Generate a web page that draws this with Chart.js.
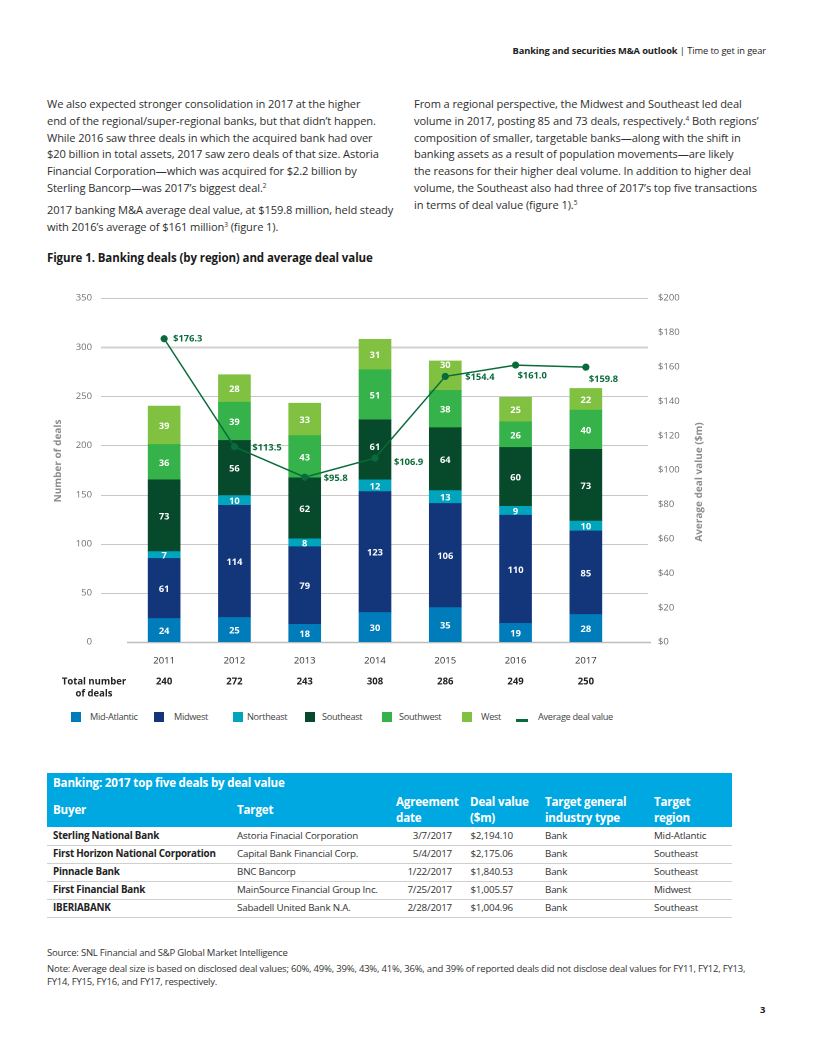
<!DOCTYPE html>
<html>
<head>
<meta charset="utf-8">
<title>Banking deals (by region) and average deal value</title>
<script src="https://cdn.jsdelivr.net/npm/chart.js@4.4.1/dist/chart.umd.min.js"></script>
<style>
  html, body { margin: 0; padding: 0; background: #fff; }
  body { width: 815px; height: 1055px; position: relative; overflow: hidden;
         font-family: "Open Sans", sans-serif; color: #2b2b2b; }
  .t { position: absolute; white-space: nowrap; }
  .running { top: 44px; right: 49px; font-size: 9.3px; letter-spacing: -0.1px; color: #222; }
  .para { font-size: 11.1px; line-height: 16.8px; letter-spacing: -0.1px; color: #2e2e2e; }
  .para sup { font-size: 6.5px; vertical-align: 4px; line-height: 0; }
  .figtitle { left: 47px; top: 250px; font-size: 11.5px; font-weight: 700; letter-spacing: -0.1px; color: #1a1a1a; }
  #chartBox { position: absolute; left: 40px; top: 285px; width: 720px; height: 415px; }
  .lg-box { position: absolute; width: 10px; height: 10px; top: 712px; }
  .lg-line { position: absolute; width: 12px; height: 3px; top: 719px; }
  .lg-text { position: absolute; top: 710px; font-size: 9.2px; letter-spacing: -0.3px; color: #444; }
  .th { position: absolute; background: #00a8e1; left: 47px; width: 685px; top: 773px; height: 54px; }
  .tc { position: absolute; white-space: nowrap; letter-spacing: -0.2px; }
  .head { color: #fff; font-weight: 700; font-size: 11.6px; line-height: 15.5px; }
  .cell { font-size: 9.8px; color: #333; }
  .sep { position: absolute; left: 47px; width: 685px; height: 1px; background: #cfcfcf; }
  .foot { font-size: 9.5px; letter-spacing: -0.2px; color: #333; left: 47px; }
</style>
</head>
<body>

<div class="t running"><b>Banking and securities M&amp;A outlook</b> | Time to get in gear</div>

<div class="t para" style="left:47px; top:96px;">
We also expected stronger consolidation in 2017 at the higher<br>
end of the regional/super-regional banks, but that didn’t happen.<br>
While 2016 saw three deals in which the acquired bank had over<br>
$20 billion in total assets, 2017 saw zero deals of that size. Astoria<br>
Financial Corporation—which was acquired for $2.2 billion by<br>
Sterling Bancorp—was 2017’s biggest deal.<sup>2</sup>
</div>
<div class="t para" style="left:47px; top:202px;">
2017 banking M&amp;A average deal value, at $159.8 million, held steady<br>
with 2016’s average of $161 million<sup>3</sup> (figure 1).
</div>
<div class="t para" style="left:414px; top:96px;">
From a regional perspective, the Midwest and Southeast led deal<br>
volume in 2017, posting 85 and 73 deals, respectively.<sup>4</sup> Both regions’<br>
composition of smaller, targetable banks—along with the shift in<br>
banking assets as a result of population movements—are likely<br>
the reasons for their higher deal volume. In addition to higher deal<br>
volume, the Southeast also had three of 2017’s top five transactions<br>
in terms of deal value (figure 1).<sup>5</sup>
</div>

<div class="t figtitle">Figure 1. Banking deals (by region) and average deal value</div>

<div id="chartBox"><canvas id="dealsChart"></canvas></div>
<div id="legend"></div>

<div class="th"></div>
<div id="table"></div>

<div class="t foot" style="top:946px;">Source: SNL Financial and S&amp;P Global Market Intelligence</div>
<div class="t foot" style="top:963px; line-height:12.5px;">Note: Average deal size is based on disclosed deal values; 60%, 49%, 39%, 43%, 41%, 36%, and 39% of reported deals did not disclose deal values for FY11, FY12, FY13,<br>FY14, FY15, FY16, and FY17, respectively.</div>
<div class="t" style="left:760px; top:1003px; font-size:9.5px; font-weight:700; color:#222;">3</div>

<script>
// Chart data
const years = ["2011", "2012", "2013", "2014", "2015", "2016", "2017"];
const midAtlantic = [24, 25, 18, 30, 35, 19, 28];
const midwest = [61, 114, 79, 123, 106, 110, 85];
const northeast = [7, 10, 8, 12, 13, 9, 10];
const southeast = [73, 56, 62, 61, 64, 60, 73];
const southwest = [36, 39, 43, 51, 38, 26, 40];
const west = [39, 28, 33, 31, 30, 25, 22];
const avgDealValue = [176.3, 113.5, 95.8, 106.9, 154.4, 161.0, 159.8];
const totalDeals = [240, 272, 243, 308, 286, 249, 250];
const dealTicks = [0, 50, 100, 150, 200, 250, 300, 350];
const valueTicks = [0, 20, 40, 60, 80, 100, 120, 140, 160, 180, 200];

// Table data
const buyers = ["Sterling National Bank", "First Horizon National Corporation", "Pinnacle Bank", "First Financial Bank", "IBERIABANK"];
const targets = ["Astoria Finacial Corporation", "Capital Bank Financial Corp.", "BNC Bancorp", "MainSource Financial Group Inc.", "Sabadell United Bank N.A."];
const agreementDates = ["3/7/2017", "5/4/2017", "1/22/2017", "7/25/2017", "2/28/2017"];
const dealValues = ["$2,194.10", "$2,175.06", "$1,840.53", "$1,005.57", "$1,004.96"];
const industryTypes = ["Bank", "Bank", "Bank", "Bank", "Bank"];
const targetRegions = ["Mid-Atlantic", "Southeast", "Southeast", "Midwest", "Southeast"];

const seriesNames = ["Mid-Atlantic", "Midwest", "Northeast", "Southeast", "Southwest", "West"];
const seriesColors = ["#007cba", "#13367b", "#00a4bc", "#07492b", "#35b24a", "#80c141"];
const lineColor = "#0a6b3a";
const FONT = '"Open Sans", sans-serif';

// label offsets for the average value line (px from point)
const lineLabelOffsets = [[9, 0], [18, 1], [19, 1], [19, 4], [20, 1], [2, 11], [3, 12]];

// Page decoration drawn around the chart
const decor = {
  id: "decor",
  beforeDatasetsDraw(chart) {
    const { ctx, scales: { y } } = chart;
    ctx.save();
    dealTicks.forEach(v => {
      if (v === 0) return;
      const py = Math.round(y.getPixelForValue(v)) + 0.5;
      ctx.strokeStyle = v === 300 ? "#d2d2d2" : "#c8c8c8";
      ctx.lineWidth = v === 300 ? 2 : 1;
      ctx.beginPath();
      ctx.moveTo(61, py);
      ctx.lineTo(608, py);
      ctx.stroke();
    });
    const y0 = Math.round(y.getPixelForValue(0)) + 0.5;
    ctx.strokeStyle = "#bdbdbd";
    ctx.lineWidth = 1.5;
    ctx.beginPath();
    ctx.moveTo(87, y0);
    ctx.lineTo(611, y0);
    ctx.stroke();
    ctx.restore();
  },
  afterDatasetsDraw(chart) {
    const { ctx } = chart;
    const lineMeta = chart.getDatasetMeta(seriesNames.length);
    ctx.save();
    // segment labels, nudged up when the line marker sits on them
    ctx.font = "700 9.3px " + FONT;
    ctx.fillStyle = "#fff";
    ctx.textAlign = "center";
    ctx.textBaseline = "middle";
    for (let i = 0; i < seriesNames.length; i++) {
      const meta = chart.getDatasetMeta(i);
      meta.data.forEach((bar, j) => {
        const p = bar.getProps(["x", "y", "base"], true);
        let ly = (p.y + p.base) / 2 + 1;
        const pt = lineMeta.data[j];
        if (Math.abs(pt.y - ly) < 9) ly = pt.y - 11;
        ctx.fillText(String(chart.data.datasets[i].data[j]), p.x, ly);
      });
    }
    // line labels
    ctx.fillStyle = lineColor;
    ctx.textAlign = "left";
    lineMeta.data.forEach((pt, j) => {
      const o = lineLabelOffsets[j];
      ctx.fillText("$" + avgDealValue[j].toFixed(1), pt.x + o[0], pt.y + o[1]);
    });
    ctx.restore();
  },
  afterDraw(chart) {
    const { ctx, scales: { x } } = chart;
    ctx.save();
    // totals row
    ctx.font = "700 9.5px " + FONT;
    ctx.fillStyle = "#222";
    ctx.textAlign = "center";
    ctx.textBaseline = "middle";
    ctx.fillText("Total number", 54, 397);
    ctx.fillText("of deals", 54, 409);
    totalDeals.forEach((t, j) => ctx.fillText(String(t), x.getPixelForValue(j), 397));
    // axis titles
    ctx.font = "700 10px " + FONT;
    ctx.fillStyle = "#8c8c8c";
    ctx.translate(18, 176);
    ctx.rotate(-Math.PI / 2);
    ctx.fillText("Number of deals", 0, 0);
    ctx.rotate(Math.PI / 2);
    ctx.translate(-18, -176);
    ctx.translate(659, 197);
    ctx.rotate(-Math.PI / 2);
    ctx.fillText("Average deal value ($m)", 0, 0);
    ctx.restore();
  }
};

const barSets = [midAtlantic, midwest, northeast, southeast, southwest, west].map((vals, i) => ({
  type: "bar",
  label: seriesNames[i],
  data: vals,
  backgroundColor: seriesColors[i],
  yAxisID: "y",
  stack: "deals",
  barThickness: 32,
  order: 2
}));

// keep vertical axes from reserving tick padding above the plot
const fixVertical = width => s => {
  s.width = width;
  s.paddingTop = 5;
  s.paddingBottom = 5;
};

new Chart(document.getElementById("dealsChart"), {
  data: {
    labels: years,
    datasets: [
      ...barSets,
      {
        type: "line",
        label: "Average deal value",
        data: avgDealValue,
        yAxisID: "y2",
        borderColor: lineColor,
        backgroundColor: lineColor,
        borderWidth: 1.5,
        pointRadius: 3.6,
        pointBackgroundColor: lineColor,
        pointBorderWidth: 0,
        tension: 0,
        order: 0
      }
    ]
  },
  options: {
    responsive: true,
    maintainAspectRatio: false,
    animation: false,
    devicePixelRatio: 2,
    layout: { padding: { top: 13, left: 0, right: 0, bottom: 0 } },
    plugins: {
      legend: { display: false },
      tooltip: { enabled: false }
    },
    scales: {
      x: {
        stacked: true,
        grid: { display: false, drawTicks: false },
        border: { display: false },
        ticks: { padding: 13, color: "#333", font: { family: FONT, size: 9.5 } },
        afterFit: s => { s.height = 58; s.paddingLeft = 0; s.paddingRight = 0; }
      },
      y: {
        position: "left",
        stacked: true,
        min: 0,
        max: 350,
        afterBuildTicks: s => { s.ticks = dealTicks.map(v => ({ value: v })); },
        grid: { display: false, drawTicks: false },
        border: { display: false },
        ticks: { padding: 37, color: "#6f6f6f", font: { family: FONT, size: 9.5 } },
        afterFit: fixVertical(89)
      },
      y2: {
        position: "right",
        min: 0,
        max: 200,
        afterBuildTicks: s => { s.ticks = valueTicks.map(v => ({ value: v })); },
        grid: { display: false, drawTicks: false },
        border: { display: false },
        ticks: { padding: 37, color: "#6f6f6f", font: { family: FONT, size: 9.5 }, callback: v => "$" + v },
        afterFit: fixVertical(139)
      }
    }
  },
  plugins: [decor]
});

// Legend
const legendEl = document.getElementById("legend");
const boxX = [71, 154, 233, 305, 382, 462];
const textX = [90, 174, 247, 322, 399, 481];
seriesNames.forEach((name, i) => {
  legendEl.insertAdjacentHTML("beforeend",
    `<div class="lg-box" style="left:${boxX[i]}px;background:${seriesColors[i]}"></div>` +
    `<div class="lg-text" style="left:${textX[i]}px">${name}</div>`);
});
legendEl.insertAdjacentHTML("beforeend",
  `<div class="lg-line" style="left:516px;background:${lineColor}"></div>` +
  `<div class="lg-text" style="left:538px">Average deal value</div>`);

// Table
const tableEl = document.getElementById("table");
const addCell = (html, cls, style) => tableEl.insertAdjacentHTML("beforeend", `<div class="tc ${cls}" style="${style}">${html}</div>`);
addCell("Banking: 2017 top five deals by deal value", "head", "left:53px;top:775px;");
addCell("Buyer", "head", "left:53px;top:802px;");
addCell("Target", "head", "left:237px;top:802px;");
addCell("Agreement<br>date", "head", "left:396px;top:794px;");
addCell("Deal value<br>($m)", "head", "left:470px;top:794px;");
addCell("Target general<br>industry type", "head", "left:545px;top:794px;");
addCell("Target<br>region", "head", "left:654px;top:794px;");
buyers.forEach((b, i) => {
  const top = 829 + i * 18;
  addCell(b, "cell", `left:53px;top:${top}px;font-weight:700;color:#222;`);
  addCell(targets[i], "cell", `left:237px;top:${top}px;`);
  addCell(agreementDates[i], "cell", `right:${815 - 452}px;top:${top}px;`);
  addCell(dealValues[i], "cell", `right:${815 - 513}px;top:${top}px;`);
  addCell(industryTypes[i], "cell", `left:545px;top:${top}px;`);
  addCell(targetRegions[i], "cell", `left:654px;top:${top}px;`);
  tableEl.insertAdjacentHTML("beforeend", `<div class="sep" style="top:${845 + i * 18}px"></div>`);
});
</script>
</body>
</html>
